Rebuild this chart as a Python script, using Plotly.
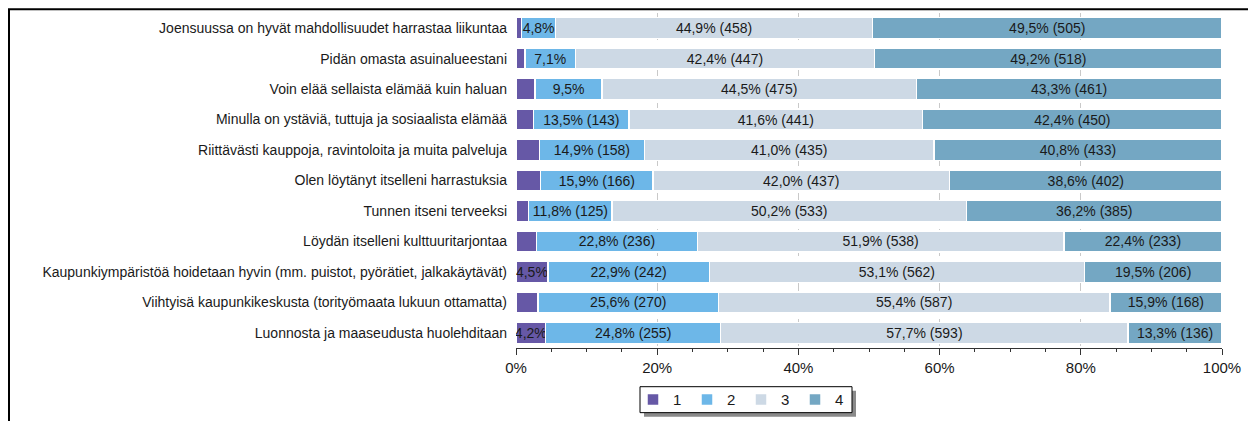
import plotly.graph_objects as go

categories = [
    "Joensuussa on hyvät mahdollisuudet harrastaa liikuntaa",
    "Pidän omasta asuinalueestani",
    "Voin elää sellaista elämää kuin haluan",
    "Minulla on ystäviä, tuttuja ja sosiaalista elämää",
    "Riittävästi kauppoja, ravintoloita ja muita palveluja",
    "Olen löytänyt itselleni harrastuksia",
    "Tunnen itseni terveeksi",
    "Löydän itselleni kulttuuritarjontaa",
    "Kaupunkiympäristöä hoidetaan hyvin (mm. puistot, pyörätiet, jalkakäytävät)",
    "Viihtyisä kaupunkikeskusta (torityömaata lukuun ottamatta)",
    "Luonnosta ja maaseudusta huolehditaan",
]

series_names = ["1", "2", "3", "4"]

pct_1 = [0.8, 1.3, 2.7, 2.5, 3.3, 3.5, 1.8, 2.9, 4.5, 3.1, 4.2]
pct_2 = [4.8, 7.1, 9.5, 13.5, 14.9, 15.9, 11.8, 22.8, 22.9, 25.6, 24.8]
pct_3 = [44.9, 42.4, 44.5, 41.6, 41.0, 42.0, 50.2, 51.9, 53.1, 55.4, 57.7]
pct_4 = [49.5, 49.2, 43.3, 42.4, 40.8, 38.6, 36.2, 22.4, 19.5, 15.9, 13.3]

# counts shown in labels (None = label shows only the percentage, "" = no label)
n_1 = ["", "", "", "", "", "", "", "", None, "", None]
n_2 = [None, None, None, 143, 158, 166, 125, 236, 242, 270, 255]
n_3 = [458, 447, 475, 441, 435, 437, 533, 538, 562, 587, 593]
n_4 = [505, 518, 461, 450, 433, 402, 385, 233, 206, 168, 136]

colors = ["#6658a6", "#6db7e8", "#cdd9e5", "#74a7c3"]

x_ticks = [0, 0.2, 0.4, 0.6, 0.8, 1.0]
x_tick_labels = ["0%", "20%", "40%", "60%", "80%", "100%"]


def make_labels(pcts, counts):
    out = []
    for p, n in zip(pcts, counts):
        if n == "":
            out.append("")
        elif n is None:
            out.append(f"{p:.1f}%".replace(".", ","))
        else:
            out.append(f"{p:.1f}% ({n})".replace(".", ","))
    return out


FONT = "Liberation Sans, Arial, sans-serif"

fig = go.Figure()
for name, pcts, counts, col in zip(series_names, [pct_1, pct_2, pct_3, pct_4],
                                   [n_1, n_2, n_3, n_4], colors):
    fig.add_trace(go.Bar(
        y=categories,
        x=[p / 100 for p in pcts],
        orientation="h",
        name=name,
        marker=dict(color=col, line=dict(color="white", width=1.5)),
        text=make_labels(pcts, counts),
        textposition="inside",
        insidetextanchor="middle",
        textangle=0,
        constraintext="none",
        textfont=dict(color="#1a1a1a", size=14, family=FONT),
        hoverinfo="skip",
    ))


# pixel helpers (page body has an 8px margin; plot area spans 516..1222 x 12.75..348.25)
def px_x(a):
    return (a - 516) / 706


def px_y(a):
    return (348.25 - a) / 335.5


fig.update_layout(
    barmode="stack",
    bargap=0.31,
    width=1248,
    height=413,
    margin=dict(l=508, r=34, t=5, b=73, autoexpand=False),
    paper_bgcolor="white",
    plot_bgcolor="white",
    font=dict(family=FONT, size=14, color="#1a1a1a"),
    uniformtext=dict(minsize=14, mode="show"),
    showlegend=True,
    legend=dict(
        orientation="h",
        traceorder="normal",
        x=px_x(741), xanchor="center",
        y=px_y(400), yanchor="middle",
        borderwidth=0,
        bgcolor="rgba(0,0,0,0)",
        font=dict(size=15),
        entrywidth=9,
        itemclick=False,
        itemdoubleclick=False,
    ),
    xaxis=dict(
        range=[0, 1],
        tickvals=x_ticks,
        ticktext=x_tick_labels,
        showline=True, linecolor="#333333", linewidth=1,
        ticks="outside", ticklen=6, tickcolor="#333333",
        minor=dict(dtick=0.05, ticks="outside", ticklen=3, tickcolor="#333333", showgrid=False),
        showgrid=True, gridcolor="#c9c9c9", griddash="dash", gridwidth=1,
        zeroline=False,
        tickfont=dict(size=15),
        automargin=False,
        fixedrange=True,
    ),
    yaxis=dict(
        categoryorder="array",
        categoryarray=categories,
        autorange="reversed",
        showline=False, showgrid=False, zeroline=False,
        ticks="", ticklabelstandoff=8,
        tickfont=dict(size=14),
        automargin=False,
        fixedrange=True,
    ),
    shapes=[
        # outer frame
        dict(type="rect", xref="paper", yref="paper",
             x0=px_x(9), x1=px_x(1265), y0=px_y(440), y1=px_y(9),
             line=dict(color="black", width=2), fillcolor="rgba(0,0,0,0)", layer="below"),
        # legend shadow
        dict(type="rect", xref="paper", yref="paper",
             x0=px_x(644), x1=px_x(856), y0=px_y(417), y1=px_y(391),
             line=dict(width=0), fillcolor="#8a8a8a", layer="above"),
        # legend box
        dict(type="rect", xref="paper", yref="paper",
             x0=px_x(640), x1=px_x(852), y0=px_y(413), y1=px_y(387),
             line=dict(color="black", width=1), fillcolor="white", layer="above"),
    ],
)

fig.write_html("out.html")
